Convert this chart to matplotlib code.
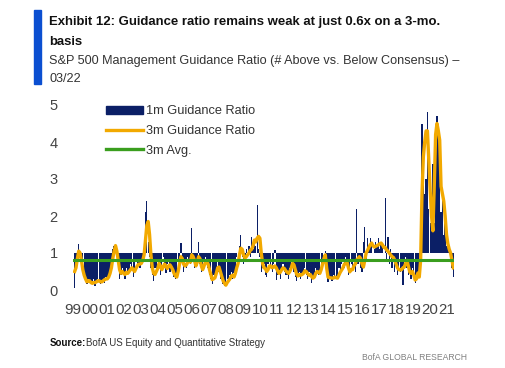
import numpy as np
import matplotlib
matplotlib.use('Agg')
import matplotlib.pyplot as plt
from matplotlib.patches import Patch, Rectangle
from matplotlib.lines import Line2D

plt.rcParams['font.family'] = ['Liberation Sans', 'DejaVu Sans']

# monthly values, Jan 1999 .. Mar 2022
ratio_1m = [
    0.05, 0.6, 0.9, 1.25, 1.0, 0.7, 0.5, 0.4, 0.25, 0.15, 0.3, 0.2,        # 1999
    0.2, 0.15, 0.3, 0.1, 0.25, 0.3, 0.2, 0.15, 0.25, 0.3, 0.2, 0.35,       # 2000
    0.3, 0.4, 0.5, 0.8, 1.1, 1.2, 1.15, 0.9, 0.6, 0.3, 0.4, 0.6,           # 2001
    0.5, 0.3, 0.6, 0.4, 0.5, 0.7, 0.6, 0.35, 0.5, 0.8, 0.6, 0.7,           # 2002
    0.6, 0.8, 0.9, 1.1, 2.1, 2.4, 1.3, 0.9, 0.6, 0.4, 0.25, 0.6,           # 2003
    0.5, 0.8, 0.7, 0.4, 0.6, 0.9, 0.6, 0.45, 0.7, 0.8, 0.5, 0.6,           # 2004
    0.5, 0.35, 0.3, 0.4, 0.8, 0.9, 1.27, 0.7, 0.5, 0.8, 0.6, 0.9,          # 2005
    0.8, 0.7, 1.68, 0.8, 0.6, 0.7, 0.9, 1.3, 0.7, 0.5, 0.6, 0.8,           # 2006
    0.9, 0.7, 0.6, 0.4, 0.3, 0.15, 0.4, 0.35, 0.6, 0.8, 0.5, 0.3,          # 2007
    0.3, 0.15, 0.1, 0.2, 0.3, 0.25, 0.4, 0.5, 0.3, 0.45, 0.6, 0.9,         # 2008
    1.0, 1.2, 1.5, 0.9, 0.7, 0.8, 1.1, 1.0, 1.2, 0.9, 1.43, 1.1,           # 2009
    1.3, 1.2, 2.3, 1.1, 0.9, 0.5, 0.6, 0.7, 0.4, 0.35, 0.7, 0.8,           # 2010
    0.6, 0.5, 0.7, 1.08, 0.27, 0.4, 0.5, 0.3, 0.6, 0.7, 0.5, 0.4,          # 2011
    0.4, 0.3, 0.6, 0.8, 0.7, 0.5, 0.35, 0.25, 0.4, 0.5, 0.3, 0.45,         # 2012
    0.5, 0.6, 0.4, 0.3, 0.5, 0.4, 0.2, 0.3, 0.45, 0.6, 0.5, 0.4,           # 2013
    0.5, 0.6, 0.8, 1.0, 1.05, 0.4, 0.22, 0.35, 0.3, 0.25, 0.4, 0.35,       # 2014
    0.3, 0.35, 0.6, 0.5, 0.7, 0.8, 0.6, 0.9, 0.75, 0.4, 0.5, 0.7,          # 2015
    0.6, 0.8, 0.5, 2.2, 0.7, 0.9, 0.6, 0.5, 1.3, 1.7, 0.8, 1.4,            # 2016
    1.1, 1.4, 1.2, 1.0, 1.1, 1.3, 1.2, 1.4, 1.1, 1.3, 1.2, 1.0,            # 2017
    2.5, 0.8, 1.43, 0.7, 1.1, 0.6, 0.8, 0.5, 0.7, 0.4, 0.6, 0.5,           # 2018
    0.6, 0.14, 0.8, 0.9, 0.6, 0.4, 0.5, 0.3, 0.6, 0.4, 0.2, 0.3,           # 2019
    0.5, 0.4, 0.45, 4.5, 3.2, 2.6, 3.0, 4.8, 2.2, 1.8, 2.0, 3.4,           # 2020
    1.8, 4.0, 4.7, 4.4, 4.05, 2.1, 2.4, 1.5, 1.8, 1.2, 1.3, 1.1,           # 2021
    0.8, 0.6, 0.35,                                                        # 2022
]
ratio_3m = [
    0.5, 0.6, 0.85, 1.05, 1.0, 0.8, 0.55, 0.4, 0.3, 0.22, 0.25, 0.25,
    0.2, 0.18, 0.2, 0.2, 0.22, 0.25, 0.25, 0.22, 0.22, 0.25, 0.28, 0.3,
    0.3, 0.35, 0.45, 0.6, 0.85, 1.05, 1.2, 1.05, 0.8, 0.55, 0.45, 0.5,
    0.45, 0.42, 0.48, 0.45, 0.5, 0.55, 0.6, 0.55, 0.5, 0.58, 0.65, 0.7,
    0.7, 0.72, 0.8, 0.95, 1.35, 1.75, 1.85, 1.5, 0.95, 0.6, 0.45, 0.42,
    0.5, 0.58, 0.72, 0.65, 0.55, 0.62, 0.7, 0.65, 0.58, 0.65, 0.68, 0.62,
    0.55, 0.45, 0.38, 0.35, 0.5, 0.7, 0.9, 0.85, 0.7, 0.65, 0.68, 0.75,
    0.8, 0.75, 0.95, 0.9, 0.8, 0.65, 0.75, 0.9, 0.85, 0.65, 0.55, 0.65,
    0.75, 0.78, 0.7, 0.55, 0.42, 0.28, 0.3, 0.33, 0.45, 0.6, 0.62, 0.5,
    0.38, 0.25, 0.18, 0.13, 0.2, 0.25, 0.3, 0.38, 0.4, 0.35, 0.45, 0.6,
    0.72, 0.95, 1.13, 1.1, 0.95, 0.86, 0.9, 0.95, 1.0, 1.08, 1.1, 1.2,
    1.35, 1.3, 1.4, 1.45, 1.4, 1.0, 0.72, 0.6, 0.58, 0.5, 0.55, 0.65,
    0.65, 0.6, 0.62, 0.65, 0.6, 0.52, 0.45, 0.48, 0.55, 0.6, 0.58, 0.52,
    0.48, 0.45, 0.5, 0.6, 0.72, 0.68, 0.55, 0.42, 0.38, 0.42, 0.4, 0.42,
    0.45, 0.52, 0.5, 0.45, 0.4, 0.42, 0.36, 0.32, 0.35, 0.45, 0.5, 0.48,
    0.45, 0.55, 0.7, 0.85, 0.95, 0.6, 0.35, 0.33, 0.33, 0.32, 0.32, 0.35,
    0.33, 0.32, 0.4, 0.48, 0.54, 0.6, 0.7, 0.72, 0.75, 0.6, 0.49, 0.55,
    0.55, 0.65, 0.7, 0.81, 0.85, 0.9, 0.85, 0.7, 0.62, 0.8, 1.0, 1.07,
    1.15, 1.22, 1.27, 1.2, 1.16, 1.18, 1.2, 1.22, 1.25, 1.27, 1.22, 1.15,
    1.15, 1.08, 1.05, 1.0, 0.95, 0.9, 0.88, 0.81, 0.7, 0.6, 0.55, 0.54,
    0.55, 0.6, 0.62, 0.72, 0.8, 0.65, 0.49, 0.45, 0.5, 0.4, 0.27, 0.3,
    0.46, 0.35, 0.8, 2.6, 3.6, 4.0, 4.3, 4.3, 3.5, 2.7, 2.0, 1.6,
    2.8, 4.2, 4.5, 4.3, 4.05, 2.8, 2.6, 2.4, 2.0, 1.5, 1.25, 1.1,
    1.0, 0.8, 0.6,
]
avg_3m = 0.8
year_labels = ['99', '00', '01', '02', '03', '04', '05', '06', '07', '08', '09', '10',
               '11', '12', '13', '14', '15', '16', '17', '18', '19', '20', '21']

navy = '#0B1F66'
orange = '#F2A900'
green = '#3A9E1E'

x = np.arange(len(ratio_1m))
r1 = np.array(ratio_1m)

fig = plt.figure(figsize=(5.05, 3.68), dpi=100)
ax = fig.add_axes([73 / 505, 1 - 290 / 368, 381 / 505, 185 / 368])

# bars measured from 1 (above vs below)
ax.bar(x, r1 - 1, bottom=1, width=0.95, color=navy, linewidth=0)
ax.plot(x, ratio_3m, color=orange, lw=2.4, solid_joinstyle='round')
ax.plot([x[0] - 0.5, x[-1] + 0.5], [avg_3m, avg_3m], color=green, lw=2.2)

ax.set_xlim(-0.5, len(x) - 0.5)
ax.set_ylim(0, 5)
ax.set_yticks([0, 1, 2, 3, 4, 5])
ax.set_xticks(np.linspace(-1.2, 273.4, len(year_labels)))
ax.set_xticklabels(year_labels)
ax.tick_params(length=0, labelsize=10.5, colors='#444444')
ax.tick_params(axis='y', pad=11)
ax.tick_params(axis='x', pad=9)
for lab in ax.get_xticklabels():
    lab.set_fontsize(10.8)
for s in ax.spines.values():
    s.set_visible(False)

handles = [Patch(color=navy), Line2D([], [], color=orange, lw=2.4), Line2D([], [], color=green, lw=2.4)]
ax.legend(handles, ['1m Guidance Ratio', '3m Guidance Ratio', '3m Avg.'],
          loc='upper left', bbox_to_anchor=(0.057, 1.06), frameon=False,
          fontsize=9.2, handlelength=2.85, handleheight=0.6, handletextpad=0.25,
          labelspacing=0.6, labelcolor='#333333')

# title block
fig.patches.append(Rectangle((34 / 505, 1 - 84 / 368), 7 / 505, 74 / 368,
                             transform=fig.transFigure, color='#0B4FD1'))
title1 = fig.text(49 / 505, 1 - 22 / 368, 'Exhibit 12: Guidance ratio remains weak at just 0.6x on a 3-mo.',
                  fontsize=10, fontweight='bold', va='center', color='#111111')
title2 = fig.text(49 / 505, 1 - 42 / 368, 'basis', fontsize=10, fontweight='bold', va='center', color='#111111')
sub1 = fig.text(49 / 505, 1 - 61 / 368, 'S&P 500 Management Guidance Ratio (# Above vs. Below Consensus) \u2013',
                fontsize=10, va='center', color='#333333')
sub2 = fig.text(49 / 505, 1 - 79 / 368, '03/22', fontsize=10, va='center', color='#333333')

# shrink the header lines to the width they take in the report
r = fig.canvas.get_renderer()
for t, w in [(title1, 394), (sub1, 411)]:
    fs = t.get_fontsize() * w / t.get_window_extent(r).width
    t.set_fontsize(fs)
title2.set_fontsize(title1.get_fontsize())
sub2.set_fontsize(sub1.get_fontsize())

# footer
fig.text(50 / 505, 1 - 343 / 368, 'Source:', fontsize=7, fontweight='bold', va='center', color='#111111')
fig.text(86 / 505, 1 - 343 / 368, 'BofA US Equity and Quantitative Strategy', fontsize=7, va='center', color='#333333')
fig.text(467 / 505, 1 - 357 / 368, 'BofA GLOBAL RESEARCH', fontsize=6.2, va='center', ha='right', color='#808080')

fig.savefig('out.png', dpi=100)
